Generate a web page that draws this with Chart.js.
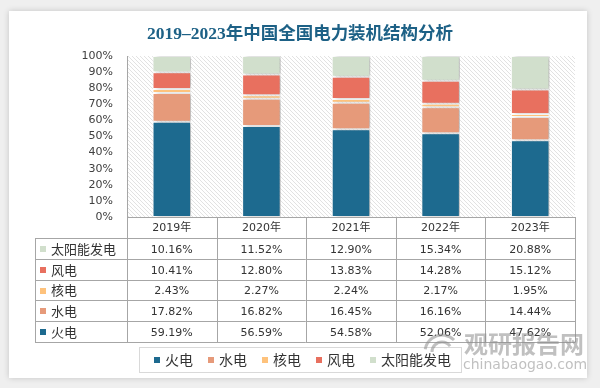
<!DOCTYPE html>
<html>
<head>
<meta charset="utf-8">
<script src="https://cdn.jsdelivr.net/npm/chart.js@4.4.1/dist/chart.umd.min.js"></script>
<style>
  html, body { margin: 0; padding: 0; background: #efefef; }
  #wrap { position: relative; width: 600px; height: 388px; overflow: hidden; }
  #card { position: absolute; left: 9px; top: 11px; width: 578px; height: 367px; background: #fff; box-shadow: 0 0 6px rgba(0,0,0,0.18); }
  canvas { position: absolute; left: 0; top: 0; }
</style>
</head>
<body>
<div id="wrap">
  <div id="card"></div>
  <canvas id="power-chart" width="600" height="388"></canvas>
</div>
<script>
// 数据
const years = ["2019年", "2020年", "2021年", "2022年", "2023年"];
const thermal = [59.19, 56.59, 54.58, 52.06, 47.62];
const hydro = [17.82, 16.82, 16.45, 16.16, 14.44];
const nuclear = [2.43, 2.27, 2.24, 2.17, 1.95];
const wind = [10.41, 12.80, 13.83, 14.28, 15.12];
const solar = [10.16, 11.52, 12.90, 15.34, 20.88];
const seriesNames = ["火电", "水电", "核电", "风电", "太阳能发电"];
const seriesColors = ["#1d6a8f", "#e69a7a", "#fec27c", "#e8705f", "#d1dfcc"];
const yTicks = [0, 10, 20, 30, 40, 50, 60, 70, 80, 90, 100];

const titleText = "2019–2023年中国全国电力装机结构分析";
const cjk = '"Noto Sans CJK SC", "DejaVu Sans", sans-serif';

// 斜线底纹
function makeHatch(ctx) {
  const c = document.createElement("canvas");
  c.width = 4; c.height = 4;
  const p = c.getContext("2d");
  p.fillStyle = "#ffffff";
  p.fillRect(0, 0, 4, 4);
  p.strokeStyle = "#e2e2e2";
  p.lineWidth = 1;
  p.beginPath();
  p.moveTo(-1, -1); p.lineTo(5, 5);
  p.moveTo(-1, 3); p.lineTo(1, 5);
  p.moveTo(3, -1); p.lineTo(5, 1);
  p.stroke();
  return ctx.createPattern(c, "repeat");
}

const hatchPlugin = {
  id: "hatch",
  beforeDraw(chart) {
    const { ctx, chartArea: a } = chart;
    ctx.save();
    ctx.fillStyle = makeHatch(ctx);
    ctx.fillRect(a.left, a.top, a.right - a.left, a.bottom - a.top);
    ctx.restore();
  },
  beforeDatasetsDraw(chart) {
    const ctx = chart.ctx;
    ctx.save();
    ctx.shadowColor = "rgba(0,0,0,0.28)";
    ctx.shadowBlur = 4;
    ctx.shadowOffsetX = 3;
  },
  afterDatasetsDraw(chart) {
    chart.ctx.restore();
  },
};

// 标题、数据表、图例、水印
const tablePlugin = {
  id: "table",
  afterDraw(chart) {
    const { ctx, chartArea: a } = chart;
    const xs = chart.scales.x;
    const colW = xs.width / years.length;
    const top = a.bottom;
    const headH = 21;
    const rowH = 20.8;
    const left = 35;
    const rows = chart.data.datasets.slice().reverse();

    ctx.save();
    // 标题
    ctx.fillStyle = "#1d6186";
    ctx.font = 'bold 17.5px "Liberation Serif", "Noto Sans CJK SC", serif';
    ctx.textAlign = "center";
    ctx.textBaseline = "middle";
    ctx.fillText(titleText, 300, 34);

    // 表格线
    ctx.strokeStyle = "#a6a6a6";
    ctx.lineWidth = 1;
    ctx.beginPath();
    for (let k = 0; k <= years.length; k++) {
      const x = Math.round(a.left + k * colW) + 0.5;
      ctx.moveTo(x, top);
      ctx.lineTo(x, top + headH + rows.length * rowH);
    }
    ctx.moveTo(left + 0.5, top + headH);
    ctx.lineTo(left + 0.5, top + headH + rows.length * rowH);
    for (let r = 0; r <= rows.length; r++) {
      const y = Math.round(top + headH + r * rowH) + 0.5;
      ctx.moveTo(left, y);
      ctx.lineTo(a.right + 0.5, y);
    }
    ctx.stroke();

    // 表头
    ctx.fillStyle = "#333";
    ctx.textAlign = "center";
    ctx.textBaseline = "middle";
    ctx.font = '11px "DejaVu Sans", "Noto Sans CJK SC", sans-serif';
    years.forEach((y, i) => {
      ctx.fillText(y, xs.getPixelForValue(i), top + headH / 2 + 1);
    });

    // 各行
    rows.forEach((ds, r) => {
      const cy = top + headH + r * rowH + rowH / 2 + 0.5;
      ctx.fillStyle = ds.backgroundColor;
      ctx.fillRect(40, Math.round(cy - 3), 6, 6);
      ctx.fillStyle = "#333";
      ctx.textAlign = "left";
      ctx.font = "13px " + cjk;
      ctx.fillText(ds.label, 51, cy);
      ctx.textAlign = "center";
      ctx.font = '11px "DejaVu Sans", sans-serif';
      ds.data.forEach((v, i) => {
        ctx.fillText(v.toFixed(2) + "%", xs.getPixelForValue(i), cy + 1);
      });
    });

    // 图例
    ctx.strokeStyle = "#d9d9d9";
    ctx.strokeRect(139.5, 347.5, 322, 25);
    let lx = 154;
    const ly = 360;
    ctx.font = "14px " + cjk;
    ctx.textAlign = "left";
    chart.data.datasets.forEach((ds) => {
      ctx.fillStyle = ds.backgroundColor;
      ctx.fillRect(lx, ly - 3, 6, 6);
      ctx.fillStyle = "#333";
      ctx.fillText(ds.label, lx + 11, ly);
      lx += 11 + ctx.measureText(ds.label).width + 15;
    });

    // 水印
    ctx.globalAlpha = 0.55;
    ctx.strokeStyle = "#8c8c8c";
    ctx.lineWidth = 3;
    ctx.beginPath();
    ctx.arc(442, 352, 17, Math.PI * 1.05, Math.PI * 1.75);
    ctx.stroke();
    ctx.beginPath();
    ctx.arc(442, 352, 10, Math.PI * 1.0, Math.PI * 1.8);
    ctx.stroke();
    ctx.fillStyle = "#8c8c8c";
    ctx.font = "bold 24px " + cjk;
    ctx.textAlign = "left";
    ctx.fillText("观研报告网", 464, 344);
    ctx.font = '14px "DejaVu Sans", sans-serif';
    ctx.fillText("chinabaogao.com", 463, 365);
    ctx.restore();
  },
};

function renderChart() {
  const el = document.getElementById("power-chart");
  const values = [thermal, hydro, nuclear, wind, solar];

  new Chart(el, {
    type: "bar",
    data: {
      labels: years,
      datasets: values.map((d, i) => ({
        label: seriesNames[i],
        data: d,
        backgroundColor: seriesColors[i],
        borderColor: "#ffffff",
        borderWidth: 1,
        borderSkipped: false,
        barPercentage: 0.43,
        categoryPercentage: 1,
      })),
    },
    options: {
      responsive: false,
      animation: false,
      events: [],
      layout: { padding: { left: 0, right: 25, top: 56, bottom: 150 } },
      plugins: {
        legend: { display: false },
        title: { display: false },
        tooltip: { enabled: false },
      },
      scales: {
        x: {
          stacked: true,
          grid: { display: false, drawTicks: false },
          border: { display: true, color: "#a6a6a6" },
          ticks: { display: false },
          afterFit: (axis) => { axis.height = 21; },
        },
        y: {
          stacked: true,
          min: 0,
          max: 100,
          grid: { display: false, drawTicks: false },
          border: { display: true, color: "#a6a6a6" },
          afterBuildTicks: (axis) => { axis.ticks = yTicks.map((v) => ({ value: v })); },
          ticks: {
            autoSkip: false,
            padding: 14,
            color: "#404040",
            font: { family: "DejaVu Sans", size: 11 },
            callback: (v) => v + "%",
          },
          afterFit: (axis) => { axis.width = 127; },
        },
      },
    },
    plugins: [hatchPlugin, tablePlugin],
  });
}

renderChart();
</script>
</body>
</html>
